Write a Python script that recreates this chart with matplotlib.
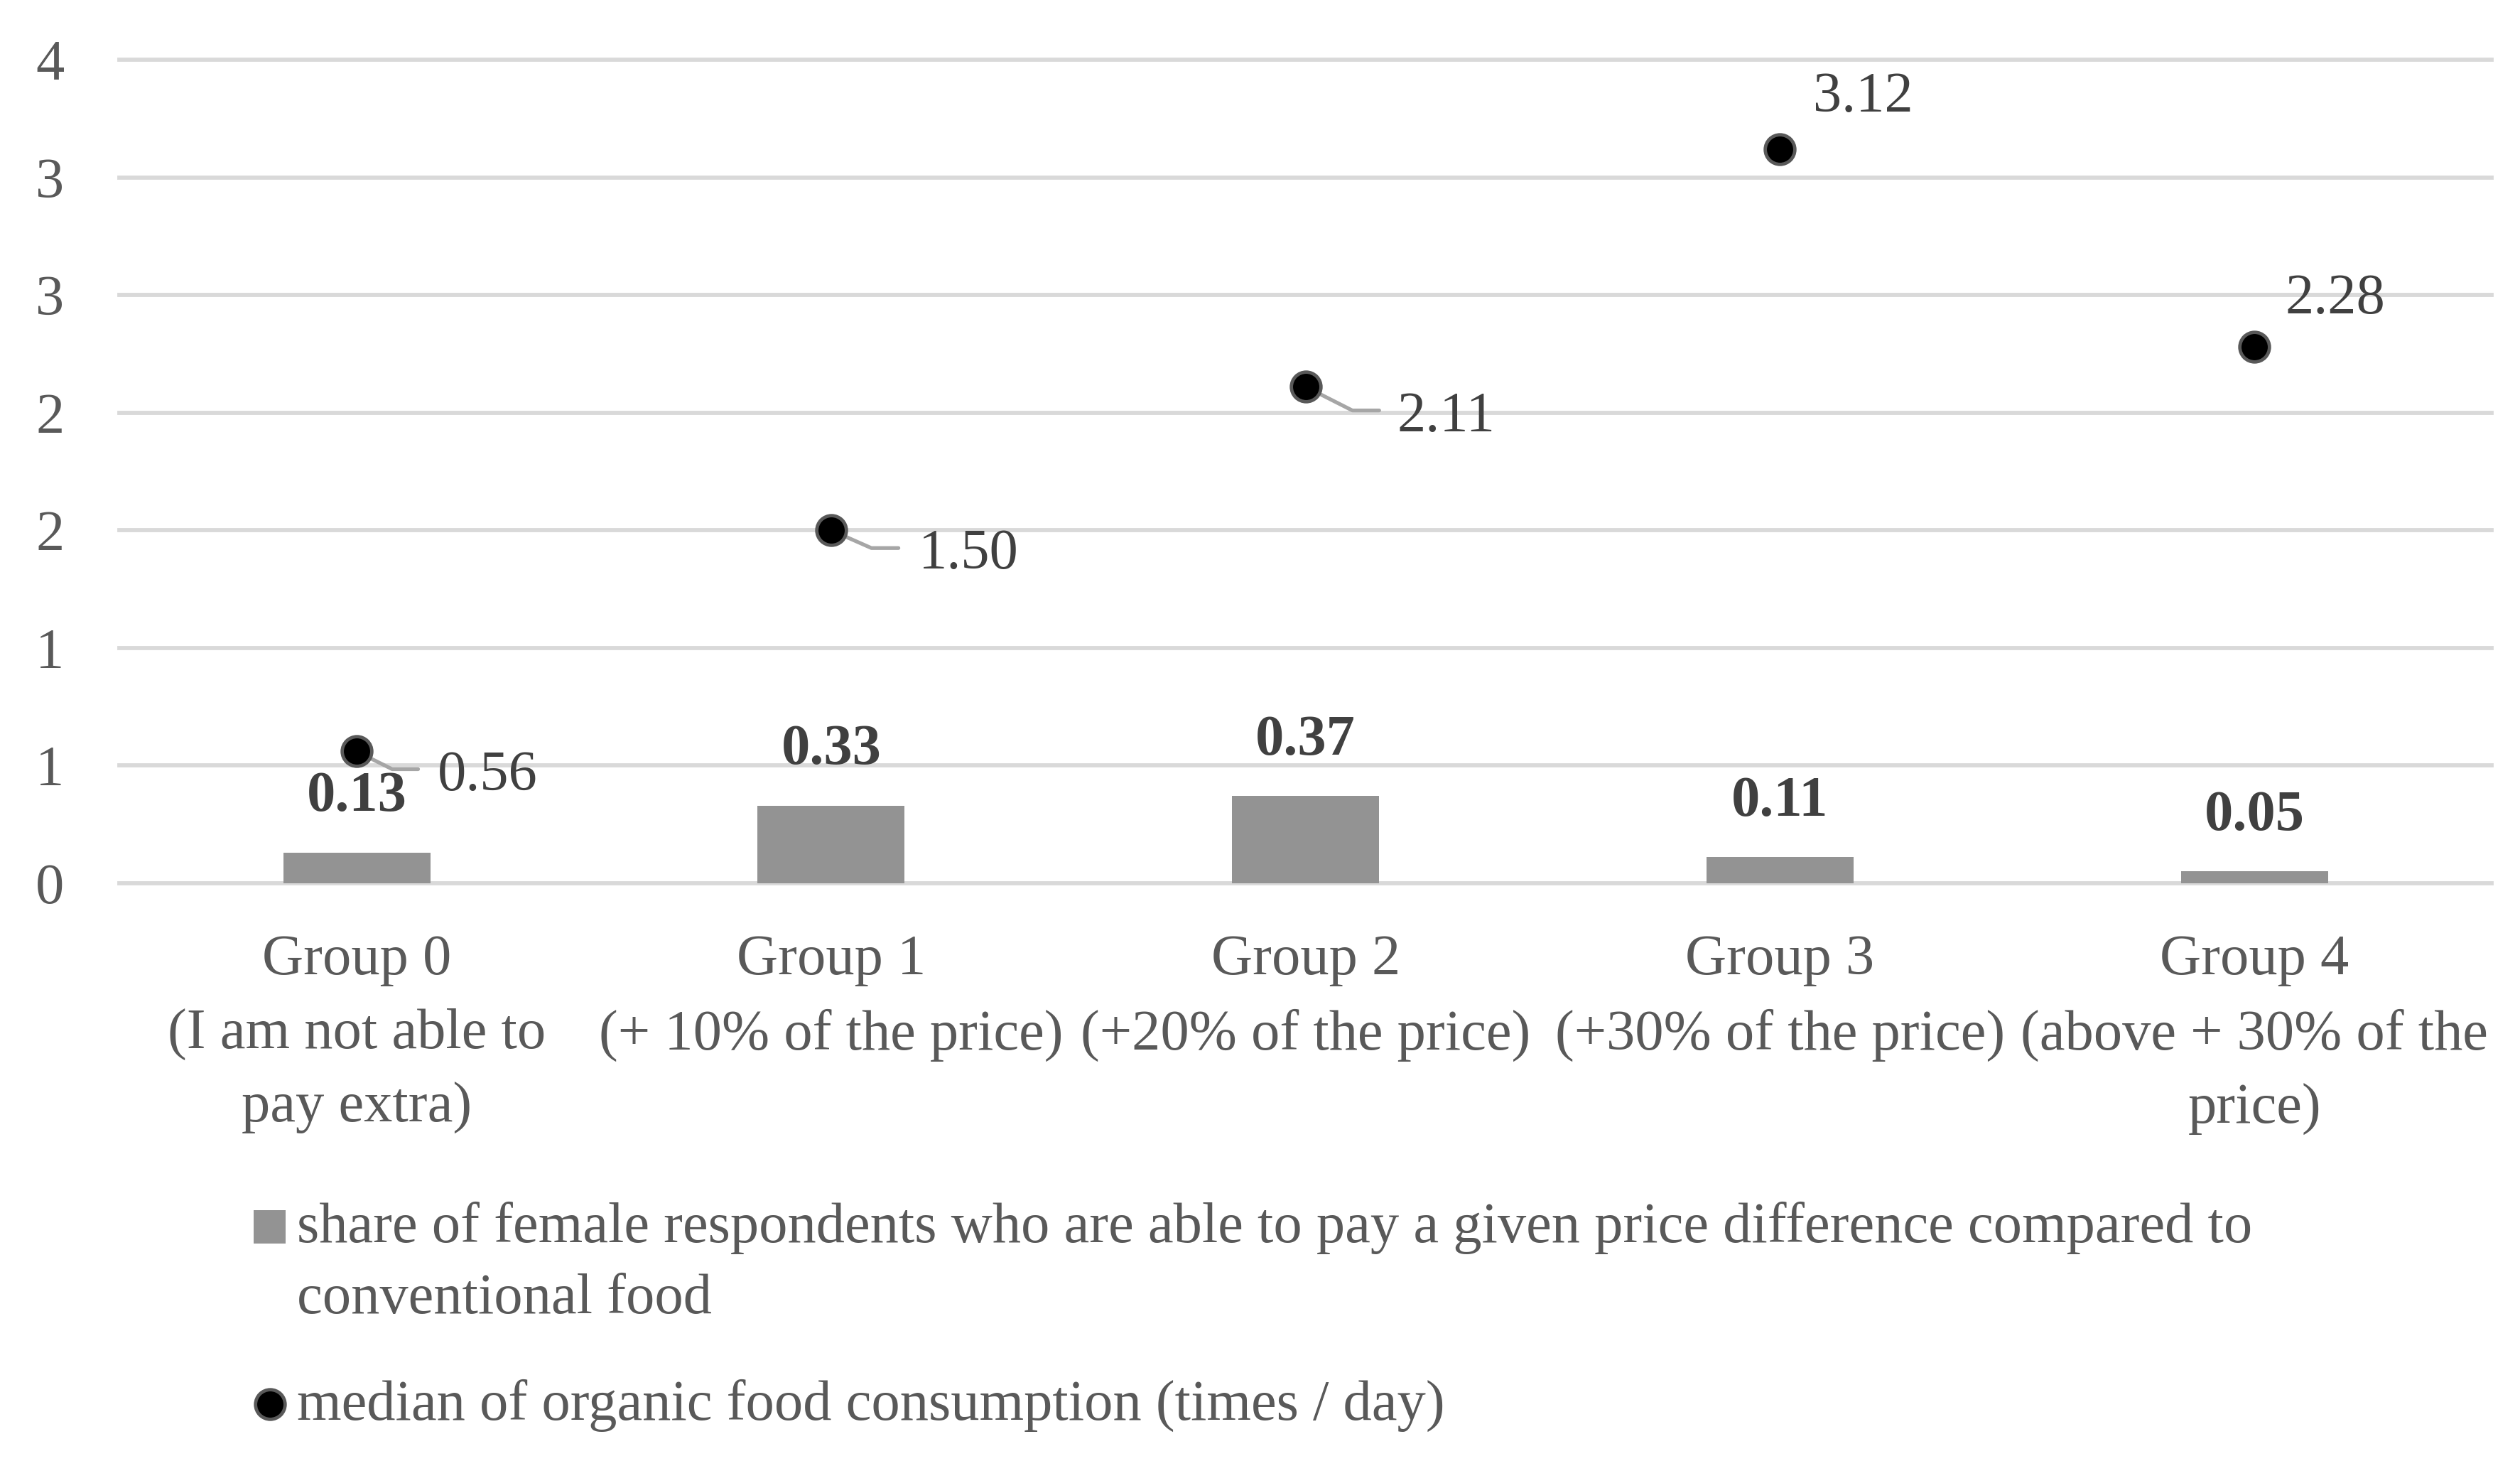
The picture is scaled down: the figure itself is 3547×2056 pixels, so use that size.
import math
import matplotlib.pyplot as plt
from matplotlib.patches import Rectangle
from matplotlib.lines import Line2D

# ====================== DATA ======================
groups = [
    "Group 0\n(I am not able to\npay extra)",
    "Group 1\n(+ 10% of the price)",
    "Group 2\n(+20% of the price)",
    "Group 3\n(+30% of the price)",
    "Group 4\n(above + 30% of the\nprice)",
]
share_female = [0.13, 0.33, 0.37, 0.11, 0.05]
median_organic = [0.56, 1.50, 2.11, 3.12, 2.28]

ytick_values = [0, 0.5, 1.0, 1.5, 2.0, 2.5, 3.0, 3.5]
ytick_labels = ["0", "1", "1", "2", "2", "3", "3", "4"]  # Excel rounds to 0 decimals

legend_bar_lines = ["share of female respondents who are able to pay a given price difference compared to",
                    "conventional food"]
legend_point = "median of organic food consumption (times / day)"

# ====================== STYLE ======================
FONT = "Liberation Serif"
FS = 29
BAR_COLOR = "#939393"
GRID_COLOR = "#D9D9D9"
TICK_COLOR = "#595959"
LABEL_COLOR = "#404040"
LEADER_COLOR = "#A6A6A6"

# label offsets in points: (text x / baseline y, leader corner, leader end)
point_label_pos = [
    ((40.9, -19.6), (18.0, -9.0), (31.1, -9.0)),
    ((44.4, -19.3), (20.4, -9.0), (34.1, -9.0)),
    ((46.4, -22.5), (23.7, -12.0), (37.3, -12.0)),
    ((16.7, 19.1), None, None),
    ((15.7, 16.8), None, None),
]

plt.rcParams["font.family"] = FONT

fig = plt.figure(figsize=(17.74, 10.28), dpi=200)
ax = fig.add_axes([0.0474, 0.3955, 0.9411, 0.5636])

x = list(range(len(groups)))

# ====================== BARS ======================
ax.bar(x, share_female, width=0.31, color=BAR_COLOR, zorder=2)
for xi, v in zip(x, share_female):
    ax.annotate(f"{v:.2f}", (xi, v), xytext=(0, 21), textcoords="offset points",
                ha="center", va="baseline", fontsize=FS, fontweight="bold",
                color=LABEL_COLOR)

# ====================== POINTS ======================
ax.plot(x, median_organic, linestyle="none", marker="o", ms=15,
        mfc="black", mec="#595959", mew=1.7, zorder=4, clip_on=False)

for xi, v, (txt, corner, end) in zip(x, median_organic, point_label_pos):
    ax.annotate(f"{v:.2f}", (xi, v), xytext=txt, textcoords="offset points",
                ha="left", va="baseline", fontsize=FS, color=LABEL_COLOR)
    if corner is not None:
        # leader: horizontal bit near the text, then diagonal into the point
        angle_b = math.degrees(math.atan2(corner[1], corner[0]))
        ax.annotate("", xy=(xi, v), xytext=end, textcoords="offset points",
                    arrowprops=dict(arrowstyle="-", color=LEADER_COLOR, lw=1.9,
                                    shrinkA=0, shrinkB=0,
                                    connectionstyle=f"angle,angleA=0,angleB={angle_b:.2f},rad=0"),
                    zorder=3)

# ====================== AXES ======================
ax.set_xlim(-0.5, len(groups) - 0.5)
ax.set_ylim(0, 3.5)
ax.set_yticks(ytick_values)
ax.set_yticklabels(ytick_labels)
ax.set_xticks(x)
ax.set_xticklabels(groups, linespacing=1.55)
for s in ax.spines.values():
    s.set_visible(False)
ax.tick_params(axis="y", length=0, pad=28, labelsize=FS, labelcolor=TICK_COLOR)
ax.tick_params(axis="x", length=0, pad=26, labelsize=FS, labelcolor=TICK_COLOR)
ax.yaxis.grid(True, color=GRID_COLOR, lw=2.1)
ax.set_axisbelow(True)
for gl in ax.get_ygridlines():
    gl.set_clip_on(False)

# ====================== LEGEND ======================
# drawn by hand so the square sits on the first line of its label
fig.patches.append(Rectangle((0.1006, 0.1488), 0.0128, 0.0227, transform=fig.transFigure,
                             facecolor=BAR_COLOR, edgecolor="none"))
fig.add_artist(Line2D([0.1071], [0.0387], marker="o", ms=15, mfc="black", mec="#595959",
                      mew=1.7, linestyle="none", transform=fig.transFigure))
for yb, line in zip([0.1498, 0.1011], legend_bar_lines):
    fig.text(0.1179, yb, line, ha="left", va="baseline", fontsize=FS, color=TICK_COLOR)
fig.text(0.1179, 0.0281, legend_point, ha="left", va="baseline", fontsize=FS, color=TICK_COLOR)

fig.savefig("out.png", dpi=200, facecolor="white")
